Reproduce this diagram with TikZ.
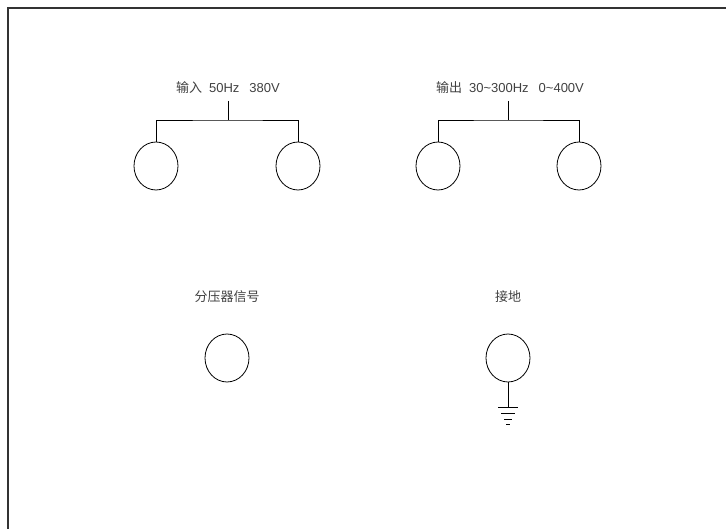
\documentclass[tikz,border=0pt]{standalone}
\usepackage{fontspec}
\setmainfont{Liberation Sans}
\newfontfamily\cjk{Noto Sans CJK SC}
\usetikzlibrary{shapes.geometric,positioning,calc}

\begin{document}
\begin{tikzpicture}[x=1pt,y=-1pt,line width=0.8pt,
socket/.style={ellipse,draw,minimum width=44pt,minimum height=48pt,inner sep=0pt},
lbl/.style={anchor=south,inner xsep=1pt,inner ysep=0pt,text depth=0pt,
text=black!75,font=\fontsize{13}{14}\selectfont}]

\useasboundingbox (0,0) rectangle (726,529);

% frame
\draw[line width=1.2pt,black!80] (726,8) -- (8,8) -- (8,529);

% input
\node[lbl] (inlabel) at (228,93) {{\cjk 输入}\hspace{7pt}50Hz\hspace{10pt}380V};
\node[socket] (inL) at (156,166) {};
\node[socket] (inR) at (298,166) {};
\coordinate (inJ) at (228,120);
\draw ($(inlabel.south)+(0,8)$) -- (inJ);
\draw (inL.north) |- (inJ) -| (inR.north);

% output
\node[lbl] (outlabel) at (510,93) {{\cjk 输出}\hspace{7pt}30\textasciitilde300Hz\hspace{10pt}0\textasciitilde400V};
\node[socket] (outL) at (438,166) {};
\node[socket] (outR) at (579,166) {};
\coordinate (outJ) at (508,120);
\draw (508,101) -- (outJ);
\draw (outL.north) |- (outJ) -| (outR.north);

% divider signal
\node[lbl] (divlabel) at (227,302) {\cjk 分压器信号};
\node[socket] (div) at (227,358) {};

% earth
\node[lbl] (earthlabel) at (508,302) {\cjk 接地};
\node[socket] (earth) at (508,358) {};
\coordinate (gnd) at (508,407);
\draw (earth.south) -- (gnd);
\foreach \w/\y in {10/407,7/413,4/419,2/424}
  \draw ($(gnd)+(-\w,\y-407)$) -- ($(gnd)+(\w,\y-407)$);

\end{tikzpicture}
\end{document}
